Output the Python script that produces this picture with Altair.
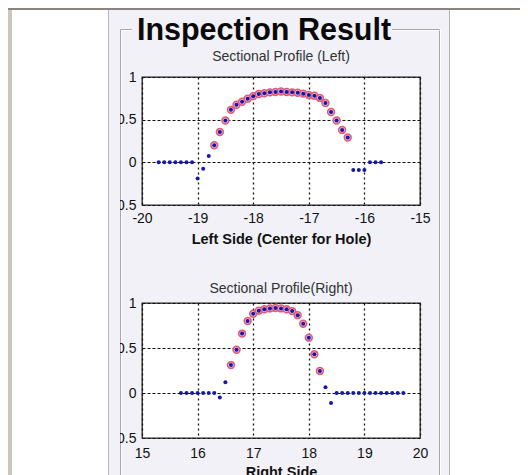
import altair as alt
import pandas as pd

MAIN_TITLE = "Inspection Result"
LEFT_TITLE = "Sectional Profile (Left)"
RIGHT_TITLE = "Sectional Profile(Right)"
LEFT_XLABEL = "Left Side (Center for Hole)"
RIGHT_XLABEL = "Right Side"

left_x = [-19.7, -19.6, -19.5, -19.4, -19.3, -19.2, -19.1, -19.0, -18.9, -18.8,
          -18.7, -18.6, -18.5, -18.4, -18.3, -18.2, -18.1, -18.0, -17.9, -17.8,
          -17.7, -17.6, -17.5, -17.4, -17.3, -17.2, -17.1, -17.0, -16.9, -16.8,
          -16.7, -16.6, -16.5, -16.4, -16.3, -16.2, -16.1, -16.0, -15.9, -15.8, -15.7]
left_y = [0, 0, 0, 0, 0, 0, 0, -0.19, -0.075, 0.075,
          0.20, 0.355, 0.49, 0.615, 0.675, 0.71, 0.745, 0.775, 0.80, 0.81,
          0.82, 0.825, 0.83, 0.825, 0.82, 0.815, 0.805, 0.79, 0.78, 0.755,
          0.695, 0.59, 0.49, 0.38, 0.29, -0.09, -0.09, -0.09, 0, 0, 0]
left_marked = [0, 0, 0, 0, 0, 0, 0, 0, 0, 0,
               1, 1, 1, 1, 1, 1, 1, 1, 1, 1,
               1, 1, 1, 1, 1, 1, 1, 1, 1, 1,
               1, 1, 1, 1, 1, 0, 0, 0, 0, 0, 0]

right_x = [15.7, 15.8, 15.9, 16.0, 16.1, 16.2, 16.3, 16.4, 16.5, 16.6,
           16.7, 16.8, 16.9, 17.0, 17.1, 17.2, 17.3, 17.4, 17.5, 17.6,
           17.7, 17.8, 17.9, 18.0, 18.1, 18.2, 18.3, 18.4, 18.5, 18.6,
           18.7, 18.8, 18.9, 19.0, 19.1, 19.2, 19.3, 19.4, 19.5, 19.6, 19.7]
right_y = [0, 0, 0, 0, 0, 0, 0, -0.05, 0.12, 0.31,
           0.48, 0.66, 0.80, 0.88, 0.915, 0.93, 0.94, 0.945, 0.94, 0.93,
           0.91, 0.865, 0.77, 0.615, 0.43, 0.245, 0.065, -0.11, 0, 0,
           0, 0, 0, 0, 0, 0, 0, 0, 0, 0, 0]
right_marked = [0, 0, 0, 0, 0, 0, 0, 0, 0, 1,
                1, 1, 1, 1, 1, 1, 1, 1, 1, 1,
                1, 1, 1, 1, 1, 1, 0, 0, 0, 0,
                0, 0, 0, 0, 0, 0, 0, 0, 0, 0, 0]

left_xticks = [-20, -19, -18, -17, -16, -15]
right_xticks = [15, 16, 17, 18, 19, 20]
y_ticks = [-0.5, 0, 0.5, 1]

FONT = "Liberation Sans"
PANEL = "#f1f1f7"
W, H1, H2 = 278, 128, 135
ONE = alt.Data(values=[{}])


def rect(x1, x2, y1, y2, color):
    return alt.Chart(ONE).mark_rect(color=color).encode(
        x=alt.value(x1), x2=alt.value(x2), y=alt.value(y1), y2=alt.value(y2))


def vline(x, y1, y2, color):
    return alt.Chart(ONE).mark_rule(color=color, strokeWidth=1).encode(
        x=alt.value(x), y=alt.value(y1), y2=alt.value(y2))


def hline(x1, x2, y, color):
    return alt.Chart(ONE).mark_rule(color=color, strokeWidth=1).encode(
        x=alt.value(x1), x2=alt.value(x2), y=alt.value(y))


def label(text, x, y, size, weight, color):
    return alt.Chart(ONE).mark_text(
        text=text, font=FONT, fontSize=size, fontWeight=weight, color=color,
        align="center", baseline="alphabetic").encode(x=alt.value(x), y=alt.value(y))


# window decoration (origin of this tiny view sits just above the first plot)
BOT = 404
decor = alt.layer(
    rect(-134, 378, -68, -66, "#8b837e"),
    rect(-134, -130, -66, BOT, "#cdc6bf"),
    rect(-34, 308, -66, BOT, PANEL),
    vline(-33.5, -66, BOT, "#b4b4bc"),
    vline(307.5, -66, BOT, "#b4b4bc"),
    vline(-21.5, -46.5, BOT, "#a6a6ae"),
    vline(-20.5, -45.5, BOT, "#ffffff"),
    vline(297.5, -46.5, BOT, "#a6a6ae"),
    vline(298.5, -46.5, BOT, "#ffffff"),
    hline(-21.5, -10, -46.5, "#a6a6ae"),
    hline(-20.5, -10, -45.5, "#ffffff"),
    hline(250, 297.5, -46.5, "#a6a6ae"),
    hline(250, 297.5, -45.5, "#ffffff"),
    label(MAIN_TITLE, 122, -36, 30.5, "bold", "#0a0a0a"),
).properties(width=1, height=1,
             view=alt.ViewBackground(fill="transparent", stroke="transparent", strokeWidth=0))


def profile(xs, ys, marked, xticks, height, title, title_y, xtitle, label_pad, title_pad):
    df = pd.DataFrame({"x": xs, "y": ys, "marked": marked})
    xscale = alt.Scale(domain=[xticks[0], xticks[-1]], nice=False, zero=False)
    yscale = alt.Scale(domain=[y_ticks[0], y_ticks[-1]], nice=False, zero=False)
    xaxis = alt.Axis(values=xticks, labelExpr="'' + datum.value", title=xtitle,
                     grid=True, gridDash=[2, 3], gridColor="#111", gridWidth=1.3,
                     domain=False, ticks=False, labelPadding=label_pad,
                     labelFont=FONT, labelFontSize=14, labelColor="#111", labelFlush=False,
                     titleFont=FONT, titleFontSize=14.5, titleFontWeight="bold",
                     titleColor="#111", titlePadding=title_pad)
    yaxis = alt.Axis(values=y_ticks, labelExpr="'' + datum.value", title=None,
                     grid=True, gridDash=[3, 2], gridColor="#111", gridWidth=1.2,
                     domain=False, ticks=False, labelPadding=6,
                     labelFont=FONT, labelFontSize=14, labelColor="#111", labelFlush=False)
    X = alt.X("x:Q", scale=xscale, axis=xaxis)
    Y = alt.Y("y:Q", scale=yscale, axis=yaxis)
    rings = alt.Chart(df).transform_filter("datum.marked == 1").mark_point(
        shape="circle", filled=True, size=48, fill="#eebfd3", stroke="#e05a78",
        strokeWidth=1.5, opacity=1).encode(x=X, y=Y)
    dots = alt.Chart(df).mark_circle(size=16, color="#1616a8", opacity=1).encode(x=X, y=Y)
    cover = rect(-33, -22, -8, height + 8, PANEL)
    head = label(title, W / 2, title_y, 14, "normal", "#333")
    return alt.layer(rings, dots, cover, head).properties(width=W, height=height)


top = profile(left_x, left_y, left_marked, left_xticks, H1, LEFT_TITLE, -16, LEFT_XLABEL, 6, 7)
bottom = profile(right_x, right_y, right_marked, right_xticks, H2, RIGHT_TITLE, -10, RIGHT_XLABEL, 8, 5)

inner = alt.vconcat(top, bottom, spacing=98, bounds="flush")

chart = alt.vconcat(decor, inner, spacing=0, bounds="flush", padding=0).configure(
    background="white").configure_view(fill="white", stroke="#222", strokeWidth=1.3)

chart.save("out.html", embed_options={"renderer": "svg", "actions": False})
